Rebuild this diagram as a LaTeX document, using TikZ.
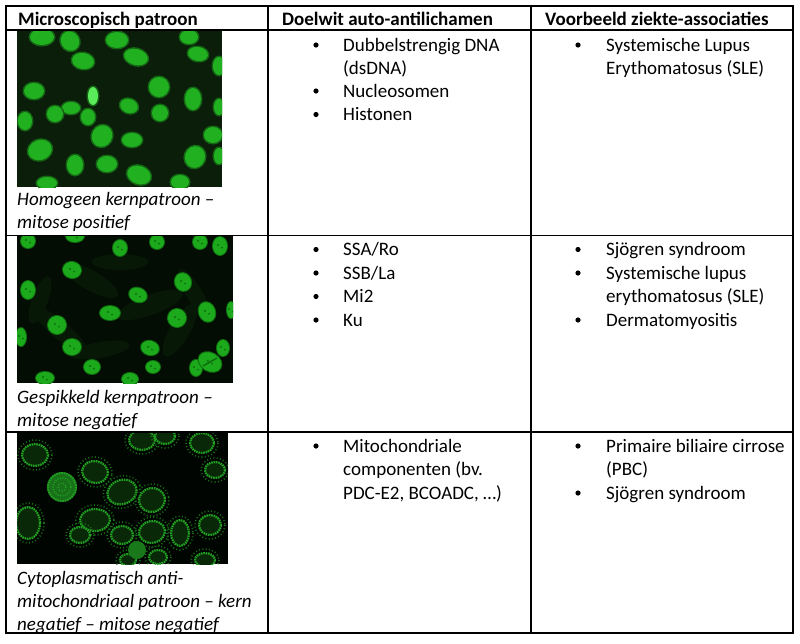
\documentclass[tikz,border=0pt]{standalone}
\usepackage{fontspec}
\setmainfont{Carlito}
\definecolor{bgA}{RGB}{10,30,10}
\definecolor{coreA}{RGB}{32,176,32}
\definecolor{haloA}{RGB}{20,100,20}
\definecolor{brightA}{RGB}{90,235,90}
\definecolor{bgB}{RGB}{3,13,3}
\definecolor{coreB}{RGB}{28,170,28}
\definecolor{spotB}{RGB}{14,110,14}
\definecolor{cytoB}{RGB}{7,24,7}
\definecolor{bgC}{RGB}{1,5,1}
\definecolor{ringC}{RGB}{34,160,34}
\definecolor{fillC}{RGB}{8,40,8}
\definecolor{specC}{RGB}{22,110,22}
\newcommand\nucA[6][coreA]{%
  \fill[haloA,rotate around={#6:(#2,#3)}] (#2,#3) ellipse [x radius=#4+1.5, y radius=#5+1.5];
  \fill[#1,rotate around={#6:(#2,#3)}] (#2,#3) ellipse [x radius=#4, y radius=#5];}
\newcommand\nucB[5]{%
  \fill[spotB,rotate around={#5:(#1,#2)}] (#1,#2) ellipse [x radius=#3+1, y radius=#4+1];
  \fill[coreB,rotate around={#5:(#1,#2)}] (#1,#2) ellipse [x radius=#3, y radius=#4];
  \fill[spotB] (#1-2,#2-1) circle (1.2) (#1+2,#2+1.5) circle (1);}
\newcommand\cytoB[5]{%
  \fill[cytoB,rotate around={#5:(#1,#2)}] (#1,#2) ellipse [x radius=#3, y radius=#4];}
\newcommand\cellC[5]{%
  \draw[specC,line width=1.6pt,dash pattern=on 1pt off 2.3pt,rotate around={#5:(#1,#2)}] (#1,#2) ellipse [x radius=#3+4, y radius=#4+4];
  \draw[ringC,fill=fillC,line width=2.2pt,dash pattern=on 1.6pt off 0.8pt,rotate around={#5:(#1,#2)}] (#1,#2) ellipse [x radius=#3, y radius=#4];}
\begin{document}
\begin{tikzpicture}[x=1pt,y=-1pt,
  txt/.style={anchor=base west,inner sep=0pt,font=\fontsize{19}{23}\selectfont},
  hdr/.style={anchor=base west,inner sep=0pt,font=\fontsize{19}{23}\selectfont\bfseries},
  captxt/.style={anchor=base west,inner sep=0pt,font=\fontsize{19}{23}\selectfont\itshape},
  gridline/.style={line width=1.6pt,black},
  bul/.style={fill=black}]
\useasboundingbox (0,0) rectangle (800,643);
\fill[white] (0,0) rectangle (800,643);

% ---------- image 1: homogeneous ----------
\begin{scope}
\clip (17,31) rectangle (222,187);
\fill[bgA] (17,31) rectangle (222,187);
\nucA{42}{37}{12}{8}{0}
\nucA{70}{41}{9}{10}{30}
\nucA{117}{40}{11}{8}{0}
\nucA{83}{61}{11}{8}{-10}
\nucA{136}{57}{12}{8}{-15}
\nucA{189}{37}{9}{7}{0}
\nucA{198}{54}{10}{7}{-10}
\nucA{219}{66}{6}{9}{0}
\nucA{34}{91}{10}{8}{0}
\nucA{159}{87}{10}{10}{0}
\nucA{193}{99}{8}{11}{0}
\nucA[brightA]{93}{96}{5}{9}{0}
\nucA{71}{108}{9}{6}{0}
\nucA{55}{114}{8}{8}{0}
\nucA{129}{106}{9}{7}{-20}
\nucA{160}{113}{8}{8}{0}
\nucA{219}{107}{5}{8}{0}
\nucA{25}{121}{7}{9}{0}
\nucA{88}{117}{7}{8}{0}
\nucA{102}{136}{10}{11}{-30}
\nucA{132}{140}{10}{7}{0}
\nucA{213}{135}{9}{8}{0}
\nucA{40}{150}{12}{10}{20}
\nucA{75}{165}{8}{10}{0}
\nucA{107}{164}{10}{8}{0}
\nucA{195}{157}{10}{11}{-20}
\nucA{219}{156}{5}{8}{0}
\nucA{139}{175}{12}{9}{-20}
\nucA{47}{183}{10}{6}{0}
\nucA{180}{182}{9}{7}{0}
\end{scope}

% ---------- image 2: speckled ----------
\begin{scope}
\clip (17,236) rectangle (233,383);
\fill[bgB] (17,236) rectangle (233,383);
\cytoB{90}{280}{32}{10}{-30}
\cytoB{150}{305}{35}{10}{20}
\cytoB{60}{330}{35}{9}{-40}
\cytoB{180}{330}{30}{10}{60}
\cytoB{120}{262}{28}{8}{0}
\cytoB{195}{295}{30}{8}{-60}
\cytoB{100}{350}{30}{8}{10}
\cytoB{40}{300}{25}{8}{70}
\nucB{28}{241}{7}{7}{0}
\nucB{75}{236}{9}{6}{0}
\nucB{120}{248}{7}{8}{0}
\nucB{157}{242}{7}{7}{0}
\nucB{200}{242}{7}{7}{0}
\nucB{220}{246}{7}{9}{0}
\nucB{72}{270}{9}{8}{-10}
\nucB{28}{290}{7}{9}{0}
\nucB{183}{282}{8}{9}{20}
\nucB{138}{295}{9}{7}{-20}
\nucB{207}{312}{8}{10}{20}
\nucB{231}{310}{4}{8}{0}
\nucB{110}{313}{10}{7}{0}
\nucB{177}{318}{9}{9}{30}
\nucB{57}{325}{9}{9}{30}
\nucB{21}{337}{5}{9}{0}
\nucB{72}{347}{9}{8}{0}
\nucB{150}{348}{9}{7}{-15}
\nucB{223}{348}{6}{8}{0}
\nucB{196}{368}{6}{8}{0}
\nucB{210}{362}{12}{9}{-30}
\draw[spotB,line width=1.5pt] (203,366) -- (217,358);
\nucB{92}{367}{8}{7}{0}
\nucB{153}{367}{7}{6}{0}
\nucB{45}{378}{9}{6}{0}
\nucB{130}{379}{8}{6}{0}
\end{scope}

% ---------- image 3: mitochondrial ----------
\begin{scope}
\clip (17,432) rectangle (228,564);
\fill[bgC] (17,432) rectangle (228,564);
\cellC{35}{455}{13}{11}{0}
\cellC{95}{472}{13}{11}{-10}
\cellC{142}{440}{13}{10}{0}
\cellC{165}{436}{10}{8}{0}
\cellC{202}{443}{12}{10}{0}
\cellC{215}{470}{10}{8}{0}
\cellC{122}{492}{15}{12}{20}
\cellC{152}{500}{13}{12}{10}
\cellC{28}{523}{12}{16}{0}
\cellC{95}{520}{15}{11}{0}
\cellC{80}{535}{10}{8}{0}
\cellC{122}{535}{11}{9}{0}
\cellC{152}{532}{13}{11}{10}
\cellC{180}{533}{9}{13}{0}
\cellC{210}{525}{11}{10}{0}
\cellC{128}{560}{8}{6}{0}
\cellC{158}{557}{9}{7}{0}
\cellC{205}{560}{10}{7}{0}
\fill[ringC!75!black] (137,550) circle (9);
\fill[ringC!70!black] (62,487) circle (15);
\draw[ringC,line width=2pt,dash pattern=on 1.5pt off 1pt] (62,487) circle (14);
\draw[ringC,line width=1.5pt,dash pattern=on 1pt off 1.5pt] (62,487) circle (9);
\draw[ringC,line width=1.5pt,dash pattern=on 1pt off 1.8pt] (62,487) circle (4);
\end{scope}

% ---------- grid ----------
\draw[gridline] (6,6) rectangle (793,633);
\draw[gridline] (6,30) -- (793,30);
\draw[gridline] (6,235.5) -- (793,235.5);
\draw[gridline] (6,432) -- (793,432);
\draw[gridline] (268,6) -- (268,633);
\draw[gridline] (531,6) -- (531,633);

% ---------- header ----------
\node[hdr] (h1) at (18,25) {Microscopisch patroon};
\node[hdr] (h2) at (282,25) {Doelwit auto-antilichamen};
\node[hdr] (h3) at (545,25) {Voorbeeld ziekte-associaties};

% ---------- captions ----------
\node[captxt] (c1a) at (17,205) {Homogeen kernpatroon –};
\node[captxt] (c1b) at (17,228) {mitose positief};
\node[captxt] (c2a) at (17,403) {Gespikkeld kernpatroon –};
\node[captxt] (c2b) at (17,426) {mitose negatief};
\node[captxt] (c3a) at (17,584) {Cytoplasmatisch anti-};
\node[captxt] (c3b) at (17,607) {mitochondriaal patroon – kern};
\node[captxt] (c3c) at (17,630) {negatief – mitose negatief};

% ---------- column 2 ----------
\foreach \y in {51,97,120.5,255.5,279,302.5,326,452}{\fill[bul] (316,\y-6) circle (2.6);}
\node[txt] (a1) at (343,51) {Dubbelstrengig DNA};
\node[txt] (a1b) at (343,74) {(dsDNA)};
\node[txt] (a2) at (343,97) {Nucleosomen};
\node[txt] (a3) at (343,120.5) {Histonen};
\node[txt] (b1) at (343,255.5) {SSA/Ro};
\node[txt] (b2) at (343,279) {SSB/La};
\node[txt] (b3) at (343,302.5) {Mi2};
\node[txt] (b4) at (343,326) {Ku};
\node[txt] (m1) at (343,452) {Mitochondriale};
\node[txt] (m1b) at (343,475.5) {componenten (bv.};
\node[txt] (m1c) at (343,499) {PDC-E2, BCOADC, …)};

% ---------- column 3 ----------
\foreach \y in {51,255.5,279,326,452,499}{\fill[bul] (578,\y-6) circle (2.6);}
\node[txt] (d1) at (606,51) {Systemische Lupus};
\node[txt] (d1b) at (606,74) {Erythomatosus (SLE)};
\node[txt] (e1) at (606,255.5) {Sjögren syndroom};
\node[txt] (e2) at (606,279) {Systemische lupus};
\node[txt] (e2b) at (606,302.5) {erythomatosus (SLE)};
\node[txt] (e3) at (606,326) {Dermatomyositis};
\node[txt] (f1) at (606,452) {Primaire biliaire cirrose};
\node[txt] (f1b) at (606,475.5) {(PBC)};
\node[txt] (f2) at (606,499) {Sjögren syndroom};
\end{tikzpicture}
\end{document}
